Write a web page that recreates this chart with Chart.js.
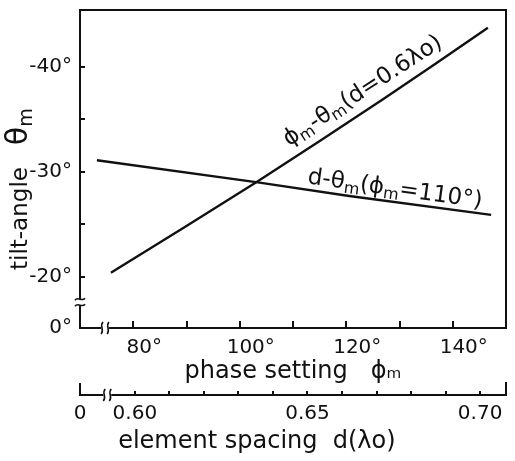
<!DOCTYPE html>
<html>
<head>
<meta charset="utf-8">
<script src="https://cdn.jsdelivr.net/npm/chart.js@4.4.0/dist/chart.umd.min.js"></script>
<style>
  html, body { margin: 0; padding: 0; background: #fff; }
</style>
</head>
<body>
<canvas id="chart" width="515" height="461"></canvas>
<script>
// phase setting axis (deg)
const phaseTicks = [80, 90, 100, 110, 120, 130, 140]
const phaseTickLabels = ['80°', '', '100°', '', '120°', '', '140°']
const phaseRange = [70, 150]
const phaseBreak = 74.7

// element spacing axis (lambda0)
const spacingTicks = [0.60, 0.61, 0.62, 0.63, 0.64, 0.65, 0.66, 0.67, 0.68, 0.69, 0.70]
const spacingTickLabels = ['0.60', '', '', '', '', '0.65', '', '', '', '', '0.70']
const spacingRange = [0.5841, 0.7075]
const spacingBreak = 0.592

// tilt angle axis (deg)
const tiltTicks = [-40, -35, -30, -25, -20]
const tiltTickLabels = ['-40°', '', '-30°', '', '-20°']
const tiltRange = [-45.4, -15.14]
const tiltBreak = -17.6

// phi_m - theta_m  (d = 0.6 lambda0)
const phaseValues = [75.8, 103.1, 126.9, 146.6]
const phaseTilt = [-20.4, -29.0, -36.9, -43.7]

// d - theta_m  (phi_m = 110 deg)
const spacingValues = [0.589, 0.6356, 0.6621, 0.7032]
const spacingTilt = [-31.1, -29.0, -27.7, -25.9]

const INK = '#111'
const f = px => px + 'px "DejaVu Sans"'

Chart.defaults.font.family = 'DejaVu Sans'
Chart.defaults.color = INK

// text run with mixed sizes; parts are [text, font, dy]
function drawRun(ctx, parts, x, y, angle, centred) {
  let total = 0
  parts.forEach(([t, font]) => {
    ctx.font = font
    total += ctx.measureText(t).width
  })
  ctx.save()
  ctx.translate(x, y)
  ctx.rotate(angle)
  ctx.textBaseline = 'alphabetic'
  ctx.textAlign = 'left'
  ctx.fillStyle = INK
  let cur = centred ? -total / 2 : 0
  parts.forEach(([t, font, dy]) => {
    ctx.font = font
    ctx.fillText(t, cur, dy)
    cur += ctx.measureText(t).width
  })
  ctx.restore()
}

function hBreak(ctx, px, py) {
  ctx.fillStyle = '#fff'
  ctx.fillRect(px - 4, py - 2, 8, 4)
  ctx.lineWidth = 1.6
  ;[-3, 3].forEach(dx => {
    ctx.beginPath()
    ctx.moveTo(px + dx + 1, py - 6)
    ctx.bezierCurveTo(px + dx - 3, py - 2, px + dx + 3, py + 2, px + dx - 1, py + 6)
    ctx.stroke()
  })
}

function vBreak(ctx, px, py) {
  ctx.fillStyle = '#fff'
  ctx.fillRect(px - 2, py - 3, 4, 6)
  ctx.lineWidth = 1.6
  ;[-3, 3].forEach(dy => {
    ctx.beginPath()
    ctx.moveTo(px - 5, py + dy + 1)
    ctx.bezierCurveTo(px - 2, py + dy - 3, px + 2, py + dy + 3, px + 5, py + dy - 1)
    ctx.stroke()
  })
}

// point on the chord of a drawn line, plus its angle
function lineAnchor(chart, index, t) {
  const pts = chart.getDatasetMeta(index).data
  const p0 = pts[0]
  const p1 = pts[pts.length - 1]
  return {
    x: p0.x + (p1.x - p0.x) * t,
    y: p0.y + (p1.y - p0.y) * t,
    angle: Math.atan2(p1.y - p0.y, p1.x - p0.x)
  }
}

const decorPlugin = {
  id: 'decor',
  afterDraw(chart) {
    const { ctx, chartArea: a, scales } = chart
    const { x, x2, y } = scales
    ctx.save()
    ctx.strokeStyle = INK
    ctx.lineWidth = 2
    // frame
    ctx.beginPath()
    ctx.moveTo(a.left, a.top)
    ctx.lineTo(a.right, a.top)
    ctx.lineTo(a.right, a.bottom)
    ctx.stroke()
    // end bars of the spacing axis
    ctx.beginPath()
    ctx.moveTo(x2.left, x2.top - 12)
    ctx.lineTo(x2.left, x2.top + 1)
    ctx.moveTo(x2.right, x2.top - 13)
    ctx.lineTo(x2.right, x2.top + 1)
    ctx.stroke()
    // axis breaks
    hBreak(ctx, x.getPixelForValue(phaseBreak), a.bottom)
    hBreak(ctx, x2.getPixelForValue(spacingBreak), x2.top)
    vBreak(ctx, a.left, y.getPixelForValue(tiltBreak))

    // y axis title
    drawRun(ctx, [
      ['tilt-angle', f(23), 0],
      ['   ', f(23), 0],
      ['θ', f(30), 0],
      ['m', f(19), 5]
    ], 27, 270, -Math.PI / 2, false)

    // curve labels
    const l1 = lineAnchor(chart, 0, 0.69)
    drawRun(ctx, [
      ['ϕ', f(23), -9], ['m', f(16), -5], ['-θ', f(23), -9], ['m', f(16), -5], ['(d=0.6λo)', f(23), -9]
    ], l1.x, l1.y, l1.angle, true)
    const l2 = lineAnchor(chart, 1, 0.752)
    drawRun(ctx, [
      ['d-θ', f(23), -6], ['m', f(16), -2], ['(ϕ', f(23), -6], ['m', f(16), -2], ['=110°)', f(23), -6]
    ], l2.x, l2.y, l2.angle, true)
    ctx.restore()
  }
}

const axisLine = { color: INK, width: 2 }

new Chart(document.getElementById('chart'), {
  type: 'scatter',
  data: {
    datasets: [
      {
        label: 'phase',
        data: phaseValues.map((v, i) => ({ x: v, y: phaseTilt[i] })),
        xAxisID: 'x',
        yAxisID: 'y',
        showLine: true,
        tension: 0.2,
        borderColor: INK,
        borderWidth: 2.4,
        pointRadius: 0
      },
      {
        label: 'spacing',
        data: spacingValues.map((v, i) => ({ x: v, y: spacingTilt[i] })),
        xAxisID: 'x2',
        yAxisID: 'y',
        showLine: true,
        borderColor: INK,
        borderWidth: 2.4,
        pointRadius: 0
      }
    ]
  },
  options: {
    responsive: false,
    animation: false,
    devicePixelRatio: 1,
    layout: { padding: { top: 10, right: 9, left: 0, bottom: 0 } },
    plugins: {
      legend: { display: false },
      tooltip: { enabled: false }
    },
    scales: {
      x: {
        type: 'linear',
        position: 'bottom',
        weight: 0,
        min: phaseRange[0],
        max: phaseRange[1],
        border: axisLine,
        grid: { drawOnChartArea: false, tickLength: -7, color: INK, lineWidth: 2 },
        afterBuildTicks: s => { s.ticks = phaseTicks.map(v => ({ value: v })) },
        afterFit: s => { s.height = 67; s.paddingLeft = 0; s.paddingRight = 0 },
        ticks: {
          autoSkip: false,
          maxRotation: 0,
          padding: 15,
          labelOffset: 11,
          font: { size: 20 },
          callback: (v, i) => phaseTickLabels[i]
        },
        title: {
          display: true,
          text: 'phase setting   ϕₘ',
          font: { size: 24 },
          padding: { top: 0, bottom: 9 }
        }
      },
      x2: {
        type: 'linear',
        position: 'bottom',
        weight: 1,
        min: spacingRange[0],
        max: spacingRange[1],
        border: axisLine,
        grid: { drawOnChartArea: false, tickLength: -4, color: INK, lineWidth: 2 },
        afterBuildTicks: s => {
          s.ticks = [{ value: spacingRange[0] }].concat(spacingTicks.map(v => ({ value: v })))
        },
        afterFit: s => { s.height = 66; s.paddingLeft = 0; s.paddingRight = 0 },
        ticks: {
          autoSkip: false,
          maxRotation: 0,
          padding: 11,
          font: { size: 20 },
          callback: (v, i) => (i === 0 ? '0' : spacingTickLabels[i - 1])
        },
        title: {
          display: true,
          align: 'start',
          text: '     element spacing  d(λo)',
          font: { size: 24 },
          padding: { top: 0, bottom: 5 }
        }
      },
      y: {
        type: 'linear',
        position: 'left',
        reverse: true,
        min: tiltRange[0],
        max: tiltRange[1],
        border: axisLine,
        grid: { drawOnChartArea: false, tickLength: -5, color: INK, lineWidth: 2 },
        afterBuildTicks: s => {
          s.ticks = tiltTicks.map(v => ({ value: v })).concat([{ value: tiltRange[1] }])
        },
        afterFit: s => { s.width = 80; s.paddingTop = 0; s.paddingBottom = 0 },
        ticks: {
          autoSkip: false,
          padding: 13,
          font: { size: 20 },
          callback: (v, i) => (i === tiltTicks.length ? '0°' : tiltTickLabels[i])
        }
      }
    }
  },
  plugins: [decorPlugin]
})
</script>
</body>
</html>
